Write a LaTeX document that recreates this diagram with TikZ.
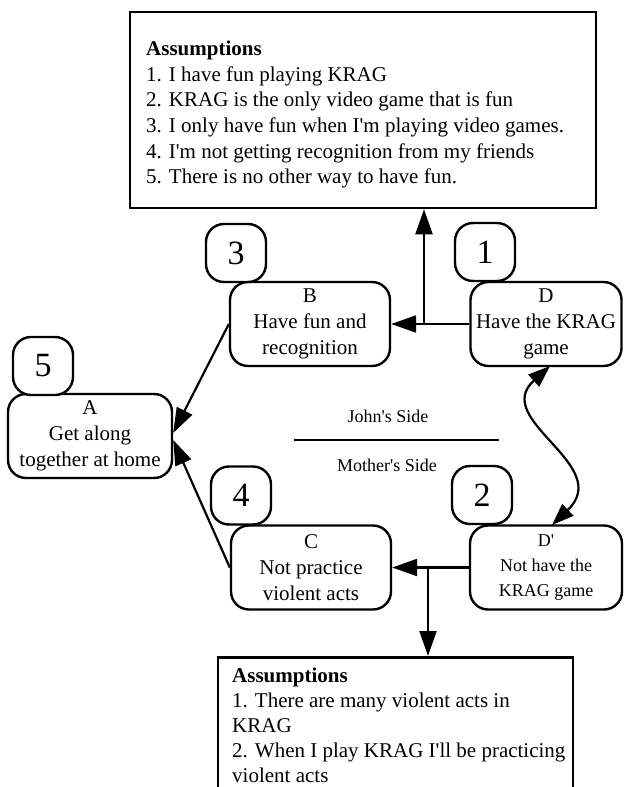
\documentclass[tikz,border=0pt]{standalone}
\usepackage{fontspec}
% straight apostrophes: no TeX ligature mapping
\setmainfont{Liberation Serif}[Ligatures=TeXOff]
\usetikzlibrary{arrows.meta}

\begin{document}
\begin{tikzpicture}[x=1pt,y=-1pt,
  card/.style={draw, line width=2.4pt, rounded corners=18pt, minimum height=84pt,
    align=center, font=\fontsize{21}{26}\selectfont, inner sep=2pt},
  numbox/.style={draw, line width=2.4pt, rounded corners=18pt, fill=white,
    minimum width=60pt, minimum height=58pt, inner sep=0pt,
    font=\fontsize{34}{40}\selectfont},
  sheet/.style={draw, line width=2.6pt, inner sep=0pt},
  asmtext/.style={align=left, inner sep=0pt, anchor=north west,
    font=\fontsize{21}{25.6}\selectfont},
  side/.style={font=\fontsize{18}{22}\selectfont, inner sep=0pt},
  arr/.style={line width=2.2pt, -{Triangle[length=25pt,width=17pt]}},
  twoway/.style={line width=2.2pt, {Triangle[length=22pt,width=16pt]}-{Triangle[length=22pt,width=16pt]}}
]
\clip (0,0) rectangle (625,787);
\fill[white] (0,0) rectangle (625,787);

% assumption sheets
\node[sheet, minimum width=466pt, minimum height=196pt] (asm1) at (363,110) {};
\node[asmtext] (asm1txt) at (146,41) {\textbf{Assumptions}\\
1. I have fun playing KRAG\\
2. KRAG is the only video game that is fun\\
3. I only have fun when I'm playing video games.\\
4. I'm not getting recognition from my friends\\
5. There is no other way to have fun.};

\node[sheet, minimum width=355pt, minimum height=200pt, anchor=north] (asm2) at (395.5,656) {};
\node[asmtext, font=\fontsize{21}{25}\selectfont] (asm2txt) at (232,668) {\textbf{Assumptions}\\
1. There are many violent acts in\\
KRAG\\
2. When I play KRAG I'll be practicing\\
violent acts};

% requirement and prerequisite cards
\node[card, minimum width=164pt] (A) at (90,436) {A\\Get along\\together at home};
\node[card, minimum width=160pt] (B) at (310,324) {B\\Have fun and\\recognition};
\node[card, minimum width=151pt] (D) at (546,324) {D\\Have the KRAG\\game};
\node[card, minimum width=160pt] (C) at (311,567.5) {C\\Not practice\\violent acts};
\node[card, minimum width=152pt, font=\fontsize{18}{25}\selectfont] (Dp) at (546,567.5) {D'\\Not have the\\KRAG game};

% step numbers
\node[numbox] (n5) at (43,366) {5};
\node[numbox] (n3) at (236,253) {3};
\node[numbox] (n1) at (485,252) {1};
\node[numbox] (n4) at (241,495.5) {4};
\node[numbox] (n2) at (482,495) {2};

% sides of the conflict
\node[side] (john) at (388,416) {John's Side};
\node[side] (mother) at (387,465) {Mother's Side};
\coordinate (divL) at (294,440);
\coordinate (divR) at (499,440);
\draw[line width=2pt] (divL) -- (divR);

% connectors
\coordinate (j1) at (424,324);
\coordinate (j2) at (428,567.5);
\draw[arr] (D.west) -- (B.east);
\draw[arr] (j1) -- (j1 |- asm1.south);
\draw[arr] (Dp.west) -- (C.east);
\draw[arr] (j2) -- (j2 |- asm2.north);
\draw[arr] (B.west) -- ([yshift=3pt]A.east);
\draw[arr] (C.west) -- ([yshift=-4pt]A.east);

\coordinate (tTop) at (550,366);
\coordinate (tBot) at (552,525);
\draw[twoway] (tTop) .. controls (490,420) and (615,465) .. (tBot);
\end{tikzpicture}
\end{document}
